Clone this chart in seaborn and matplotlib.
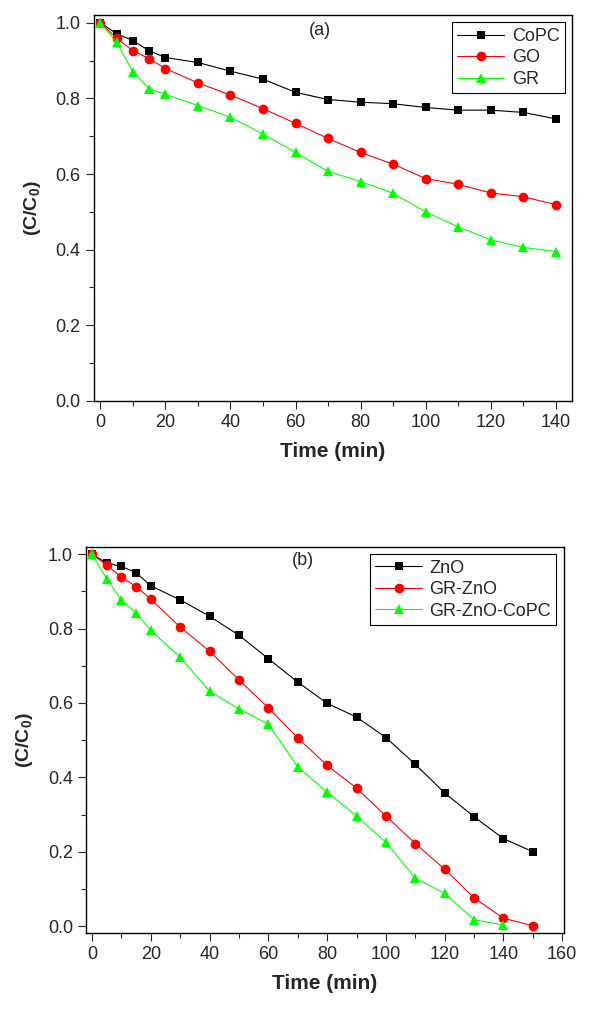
import matplotlib
matplotlib.use("Agg")
import matplotlib.pyplot as plt
from matplotlib.ticker import MultipleLocator
import seaborn as sns
import pandas as pd

# panel (a)
time_a = [0, 5, 10, 15, 20, 30, 40, 50, 60, 70, 80, 90, 100, 110, 120, 130, 140]
copc = [1.0, 0.971, 0.953, 0.926, 0.908, 0.895, 0.872, 0.851, 0.816, 0.797, 0.790, 0.786, 0.776, 0.769, 0.769, 0.763, 0.746]
go = [1.0, 0.959, 0.926, 0.905, 0.879, 0.841, 0.809, 0.773, 0.734, 0.694, 0.657, 0.626, 0.588, 0.573, 0.550, 0.540, 0.519]
gr = [1.0, 0.949, 0.870, 0.826, 0.811, 0.781, 0.750, 0.706, 0.657, 0.607, 0.580, 0.549, 0.500, 0.460, 0.426, 0.406, 0.395]

# panel (b)
time_b = [0, 5, 10, 15, 20, 30, 40, 50, 60, 70, 80, 90, 100, 110, 120, 130, 140, 150]
zno = [1.0, 0.976, 0.967, 0.950, 0.915, 0.877, 0.833, 0.782, 0.719, 0.656, 0.599, 0.562, 0.507, 0.435, 0.358, 0.294, 0.235, 0.200]
gr_zno = [1.0, 0.970, 0.938, 0.913, 0.879, 0.804, 0.739, 0.662, 0.587, 0.506, 0.432, 0.371, 0.296, 0.222, 0.153, 0.076, 0.021, 0.001]
time_c = [0, 5, 10, 15, 20, 30, 40, 50, 60, 70, 80, 90, 100, 110, 120, 130, 140]
gr_zno_copc = [1.0, 0.934, 0.876, 0.842, 0.795, 0.723, 0.631, 0.584, 0.543, 0.428, 0.360, 0.296, 0.225, 0.129, 0.088, 0.017, 0.003]

sns.set_style("ticks")
plt.rcParams['font.family'] = ['Liberation Sans', 'DejaVu Sans']
plt.rcParams['mathtext.fontset'] = 'custom'
plt.rcParams['mathtext.bf'] = 'Liberation Sans:bold'
plt.rcParams['mathtext.rm'] = 'Liberation Sans'

def long_df(series):
    rows = []
    for name, (t, vals) in series.items():
        for x, y in zip(t, vals):
            rows.append({"time": x, "cc0": y, "sample": name})
    return pd.DataFrame(rows)

df_a = long_df({"CoPC": (time_a, copc), "GO": (time_a, go), "GR": (time_a, gr)})
df_b = long_df({"ZnO": (time_b, zno), "GR-ZnO": (time_b, gr_zno), "GR-ZnO-CoPC": (time_c, gr_zno_copc)})

fig = plt.figure(figsize=(5.94, 10.15), dpi=100)
ax1 = fig.add_axes([0.158, 0.605, 0.805, 0.380])
ax2 = fig.add_axes([0.145, 0.081, 0.804, 0.380])

msize = {"s": 6, "o": 7, "^": 7.5}

def draw(ax, df, names, colors, markers, label, lx, ly):
    sns.lineplot(data=df, x="time", y="cc0", hue="sample", style="sample",
                 hue_order=names, style_order=names,
                 palette=dict(zip(names, colors)), markers=dict(zip(names, markers)),
                 dashes=False, markeredgewidth=0, linewidth=0.8,
                 ax=ax)
    for line, m in zip(ax.lines, markers):
        line.set_markeredgecolor(line.get_color())
        line.set_markersize(msize[m])
    ax.set_xlabel("Time (min)", fontsize=15, fontweight="bold", labelpad=8)
    ax.set_ylabel(r"$\mathbf{(C/C_0)}$", fontsize=14, labelpad=9)
    ax.tick_params(axis="both", which="major", labelsize=13, direction="out", length=6, width=0.8)
    ax.tick_params(axis="both", which="minor", direction="out", length=3.5, width=0.8)
    ax.yaxis.set_major_locator(MultipleLocator(0.2))
    ax.yaxis.set_minor_locator(MultipleLocator(0.1))
    ax.xaxis.set_major_locator(MultipleLocator(20))
    ax.xaxis.set_minor_locator(MultipleLocator(10))
    ax.yaxis.set_major_formatter(matplotlib.ticker.FormatStrFormatter("%.1f"))
    for s in ax.spines.values():
        s.set_linewidth(1.0)
        s.set_color("black")
    leg = ax.legend(loc="upper right", fontsize=13, frameon=True, fancybox=False,
                    edgecolor="black", framealpha=1, handlelength=2.6,
                    borderpad=0.3, labelspacing=0.25, handletextpad=0.4,
                    borderaxespad=0.4)
    leg.get_frame().set_linewidth(0.8)
    for h, m in zip(leg.legend_handles, markers):
        h.set_markersize(msize[m])
    ax.text(lx, ly, label, transform=ax.transAxes, fontsize=13, ha="center", va="center")

draw(ax1, df_a, ["CoPC", "GO", "GR"], ["black", "#ff0000", "#00ff00"], ["s", "o", "^"], "(a)", 0.473, 0.961)
ax1.set_xlim(-2, 145)
ax1.set_ylim(0, 1.02)

draw(ax2, df_b, ["ZnO", "GR-ZnO", "GR-ZnO-CoPC"], ["black", "#ff0000", "#00ff00"], ["s", "o", "^"], "(b)", 0.453, 0.966)
ax2.set_xlim(-2, 160.5)
ax2.set_ylim(-0.018, 1.019)

fig.savefig("out.png", dpi=100)
